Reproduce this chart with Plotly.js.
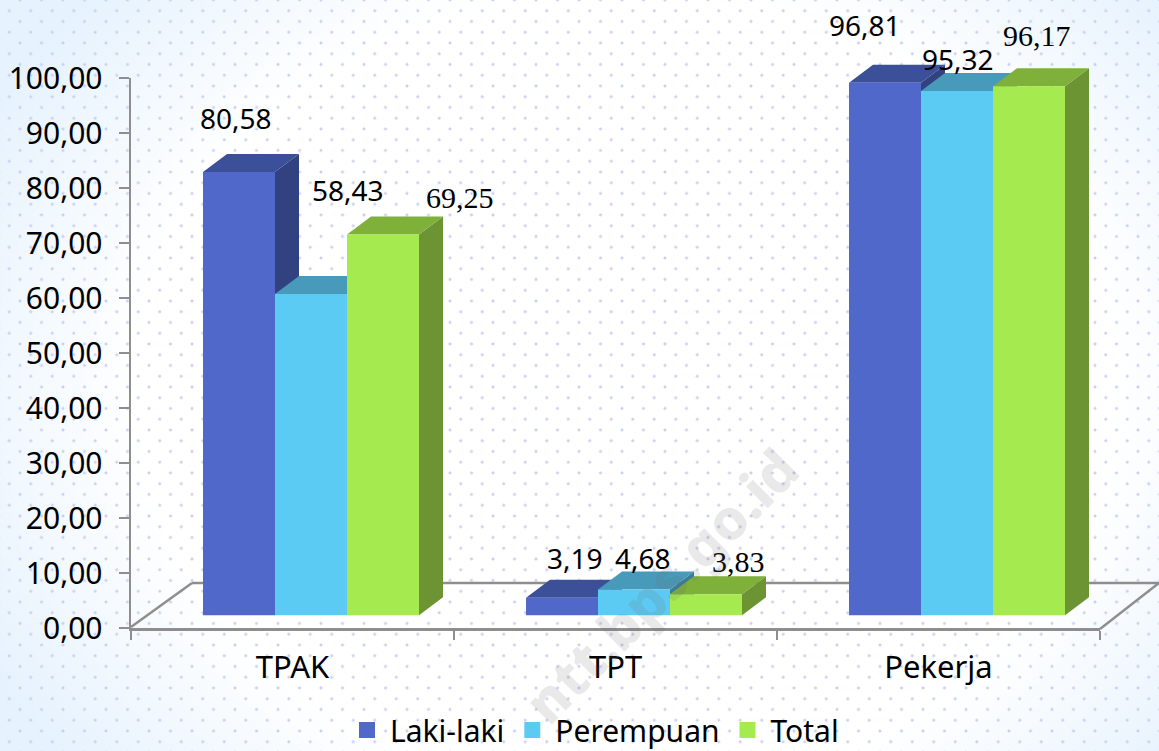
<!DOCTYPE html>
<html>
<head>
<meta charset="utf-8">
<script src="https://cdn.plot.ly/plotly-3.0.1.min.js"></script>
<style>
html,body{margin:0;padding:0;width:1159px;height:751px;overflow:hidden;background:#fff}
#bg{position:absolute;left:0;top:0;width:1159px;height:751px;
background-image:
 radial-gradient(circle at center,#c9d1f1 0,#c9d1f1 0.9px,rgba(201,209,241,0) 2px),
 radial-gradient(circle at center,#c9d1f1 0,#c9d1f1 0.9px,rgba(201,209,241,0) 2px),
 radial-gradient(ellipse 62% 78% at 54% 52%,#ffffff 68%,#e6f2fd 100%);
background-size:21.5px 21.5px,21.5px 21.5px,100% 100%;
background-position:9.25px 10.7px,-1.5px 0px,0 0;}
#chart{position:absolute;left:0;top:0;width:1159px;height:751px}
</style>
</head>
<body>
<div id="bg"></div>
<div id="chart"></div>
<script>
const categories = ['TPAK', 'TPT', 'Pekerja'];
const seriesNames = ['Laki-laki', 'Perempuan', 'Total'];
const lakiLaki = [80.58, 3.19, 96.81];
const perempuan = [58.43, 4.68, 95.32];
const total = [69.25, 3.83, 96.17];
const yTickVals = [0, 10, 20, 30, 40, 50, 60, 70, 80, 90, 100];
const yTickText = ['0,00', '10,00', '20,00', '30,00', '40,00', '50,00', '60,00', '70,00', '80,00', '90,00', '100,00'];

const seriesValues = [lakiLaki, perempuan, total];
const frontColors = ['#4F68C9', '#5CCBF3', '#A5EB50'];
const topColors = ['#3C4F99', '#479ABA', '#7EB03A'];
const sideColors = ['#32417F', '#3A7D96', '#6C9433'];

// plot geometry in pixels: the y axis spans Y100..B, the plot area reaches up to T so bar tops are not clipped
const L = 131, R = 1100, T = 40, Y100 = 78, B = 628, W = 1159, H = 751;
const pxPerCat = (R - L) / 3, pxPerVal = (B - Y100) / 100;
const xFrontStart = -0.5 - (18.5 / pxPerCat);   // front plane sits right of the axis
const yFrontStart = -(B - 615.3) / pxPerVal;    // and above it
const frontX = [xFrontStart, xFrontStart + 3];
const frontY = [yFrontStart, yFrontStart + (B - T) / pxPerVal];
const barGap = 1 - 216 / pxPerCat;
const slot = (1 - barGap) / 3;
const dx = 24 / pxPerCat, dy = 18 / pxPerVal;
const sans = '"Noto Sans", sans-serif', serif = '"Liberation Serif", serif';

const traces = [{
  x: categories, y: [0, 0, 0], type: 'scatter', mode: 'none',
  xaxis: 'x', yaxis: 'y', showlegend: false, hoverinfo: 'skip'
}];

seriesValues.forEach((vals, s) => {
  const sx = [], sy = [], tx = [], ty = [];
  vals.forEach((v, c) => {
    const xl = c + (s - 1.5) * slot, xr = xl + slot;
    sx.push(xr, xr, xr + dx, xr + dx, xr, null);
    sy.push(0, v, v + dy, dy, 0, null);
    tx.push(xl, xr, xr + dx, xl + dx, xl, null);
    ty.push(v, v, v + dy, v + dy, v, null);
  });
  [[sx, sy, sideColors[s]], [tx, ty, topColors[s]]].forEach(f => traces.push({
    x: f[0], y: f[1], type: 'scatter', mode: 'none', fill: 'toself', fillcolor: f[2],
    xaxis: 'x2', yaxis: 'y2', showlegend: false, hoverinfo: 'skip', cliponaxis: false
  }));
});

seriesValues.forEach((vals, s) => traces.push({
  x: [0, 1, 2], y: vals, type: 'bar', name: seriesNames[s],
  marker: {color: frontColors[s]}, xaxis: 'x3', yaxis: 'y3',
  showlegend: false, legendgroup: seriesNames[s], cliponaxis: false
}));

seriesValues.forEach((vals, s) => traces.push({
  x: [null], y: [null], type: 'scatter', mode: 'markers', name: seriesNames[s],
  marker: {color: frontColors[s], symbol: 'square', size: 16},
  xaxis: 'x3', yaxis: 'y3', legendgroup: seriesNames[s], hoverinfo: 'skip'
}));

// label nudges (px) from each bar's top, matching the hand-placed labels
const labelShiftX = [[-3, 13, -20], [37, 9, 1], [77, 32, 8]];
const labelShiftY = [[54, 40, 58], [104, 32, 32], [37, 33, 51]];
const labelFonts = [[sans, sans, sans], [sans, sans, sans], [serif, serif, serif]];
const labelSizes = [28, 28, 30];
const fmt = v => v.toFixed(2).replace('.', ',');
const px = v => (v - L) / (R - L), py = v => (B - v) / (B - T);
const annotations = [];
seriesValues.forEach((vals, s) => vals.forEach((v, c) => annotations.push({
  x: c + (s - 1) * slot, y: v, xref: 'x3', yref: 'y3', text: fmt(v), showarrow: false,
  xanchor: 'center', yanchor: 'middle', xshift: labelShiftX[s][c], yshift: labelShiftY[s][c],
  font: {family: labelFonts[s][c], size: labelSizes[s], color: '#000'}
})));
annotations.push({
  xref: 'paper', yref: 'paper', x: px(660), y: py(585),
  text: 'ntt.bps.go.id', showarrow: false, textangle: -45,
  xanchor: 'center', yanchor: 'middle',
  font: {family: sans, size: 56, weight: 800, color: 'rgba(110,110,110,0.15)'}
});

const floorLine = {color: '#8E8E8E', width: 2.5};
const shapes = [
  {type: 'line', xref: 'paper', yref: 'paper', layer: 'below', x0: px(L), y0: py(627), x1: px(192), y1: py(583), line: floorLine},
  {type: 'line', xref: 'paper', yref: 'paper', layer: 'below', x0: px(192), y0: py(583), x1: px(W), y1: py(583), line: floorLine},
  {type: 'line', xref: 'paper', yref: 'paper', layer: 'below', x0: px(R), y0: py(629), x1: px(W), y1: py(583), line: floorLine}
];

const hiddenX = a => ({range: frontX, domain: [0, 1], anchor: a, visible: false, fixedrange: true});
const hiddenY = a => ({range: frontY, domain: [0, 1], anchor: a, visible: false, fixedrange: true});

const layout = {
  width: W, height: H, autosize: false,
  margin: {l: L, r: W - R, t: T, b: H - B, pad: 0},
  paper_bgcolor: 'rgba(0,0,0,0)', plot_bgcolor: 'rgba(0,0,0,0)',
  barmode: 'group', bargap: barGap, bargroupgap: 0,
  font: {family: sans, color: '#000'},
  xaxis: {
    type: 'category', categoryorder: 'array', categoryarray: categories, range: [-0.5, 2.5],
    tickson: 'boundaries', ticks: 'outside', ticklen: 9, tickwidth: 2, tickcolor: '#8E8E8E',
    showline: true, linecolor: '#8E8E8E', linewidth: 2.5, showgrid: false, zeroline: false,
    tickfont: {family: sans, size: 31, color: '#000'}, ticklabelstandoff: 10, fixedrange: true
  },
  yaxis: {
    domain: [0, (B - Y100) / (B - T)],
    range: [0, 100], tickmode: 'array', tickvals: yTickVals, ticktext: yTickText,
    ticks: 'outside', ticklen: 10, tickwidth: 2, tickcolor: '#8E8E8E',
    showline: true, linecolor: '#8E8E8E', linewidth: 2.5, showgrid: false, zeroline: false,
    tickfont: {family: sans, size: 30, color: '#000'}, ticklabelstandoff: 10, fixedrange: true
  },
  xaxis2: hiddenX('y2'), yaxis2: hiddenY('x2'),
  xaxis3: hiddenX('y3'), yaxis3: hiddenY('x3'),
  legend: {
    orientation: 'h', xref: 'container', yref: 'container', itemwidth: 36,
    x: 594 / W, xanchor: 'center', y: (H - 730) / H, yanchor: 'middle',
    font: {family: sans, size: 30, color: '#000'}, bgcolor: 'rgba(0,0,0,0)', itemclick: false, itemdoubleclick: false
  },
  annotations, shapes, showlegend: true
};
Plotly.newPlot('chart', traces, layout, {displayModeBar: false, staticPlot: true});
</script>
</body>
</html>
